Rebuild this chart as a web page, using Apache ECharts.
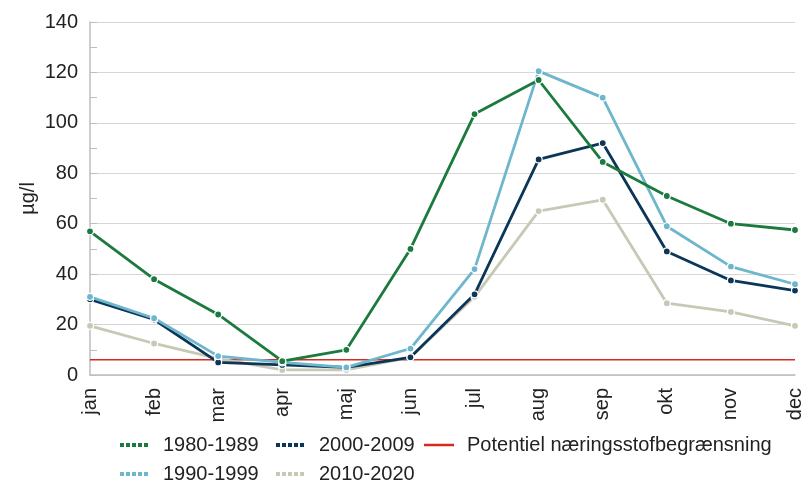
<!DOCTYPE html>
<html><head><meta charset="utf-8">
<script src="https://cdn.jsdelivr.net/npm/echarts@6/dist/echarts.min.js"></script>
<style>html,body{margin:0;padding:0;background:#fff}#c{width:805px;height:483px}</style>
</head><body><div id="c"></div>
<script>
const categories = ['jan','feb','mar','apr','maj','jun','jul','aug','sep','okt','nov','dec'];
const s1980 = [57, 38, 24, 5.5, 10, 50, 103.5, 117, 84.5, 71, 60, 57.5];
const s1990 = [31, 22.5, 7.5, 5, 3, 10.5, 42, 120.5, 110, 59, 43, 36];
const s2000 = [30, 22, 5, 4, 3, 7, 32, 85.5, 92, 49, 37.5, 33.5];
const s2010 = [19.5, 12.5, 6.5, 2, 2, 7, 31, 65, 69.5, 28.5, 25, 19.5];
const limitValue = 6;
const limit = categories.map(() => limitValue);
const yTicks = [0, 20, 40, 60, 80, 100, 120, 140];

const names = ['1980-1989','1990-1999','2000-2009','2010-2020','Potentiel næringsstofbegrænsning'];
const colors = ['#1b7a3d','#6db6cb','#0c3658','#c8c8b6','#d52b1e'];
const font = 'Liberation Sans, Arial, sans-serif';

function lineSeries(name, data, color){
  return {name, type:'line', data, color, symbol:'circle', symbolSize:7,
    lineStyle:{width:2.8, color}, itemStyle:{color, borderColor:'#fff', borderWidth:1.2},
    z: 3};
}
const legendText = {fontSize:20, lineHeight:20, color:'#222', fontFamily:font, padding:[0,0,0,8]};
function legendItem(name, i){
  if (i === 4) return {name, icon:'rect', itemStyle:{color:colors[4]}, lineStyle:{opacity:0}};
  return {name, itemStyle:{opacity:0}, lineStyle:{type:[4,2], width:4, color:colors[i]}};
}
function legendOne(i, left, top){
  return {left, top, itemWidth:30, itemHeight:2.5, padding:0,
    textStyle:legendText, data:[legendItem(names[i], i)]};
}
const chart = echarts.init(document.getElementById('c'));
chart.setOption({
  animation:false,
  grid:{left:90, right:8, top:22, bottom:108},
  legend:[ legendOne(0,118,435), legendOne(1,118,464), legendOne(2,274,435),
           legendOne(3,274,464), legendOne(4,424,435) ],
  xAxis:{type:'category', data:categories, boundaryGap:false,
    axisLine:{lineStyle:{color:'#bdbdbd', width:1.5}}, axisTick:{show:false},
    axisLabel:{rotate:90, fontSize:20, color:'#222', fontFamily:font, margin:13}},
  yAxis:{type:'value', min:yTicks[0], max:yTicks[yTicks.length-1], interval:20,
    name:'µg/l', nameLocation:'middle', nameGap:52, nameRotate:90, nameMoveOverlap:false,
    nameTextStyle:{fontSize:20, color:'#222', fontFamily:font},
    axisLine:{show:true, lineStyle:{color:'#bdbdbd', width:1.5}},
    axisTick:{show:true, inside:true, length:7, lineStyle:{color:'#bdbdbd'}},
    minorTick:{show:true, splitNumber:2, length:7, lineStyle:{color:'#bdbdbd'}},
    splitLine:{lineStyle:{color:'#d6d6d6', width:1.2}},
    axisLabel:{fontSize:20, color:'#222', fontFamily:font, margin:12}},
  series:[
    {name:names[4], type:'line', data:limit, color:colors[4], symbol:'none',
      lineStyle:{width:1.5, color:colors[4]}, z:2},
    lineSeries(names[3], s2010, colors[3]),
    lineSeries(names[2], s2000, colors[2]),
    lineSeries(names[1], s1990, colors[1]),
    lineSeries(names[0], s1980, colors[0])
  ]
});
</script></body></html>
